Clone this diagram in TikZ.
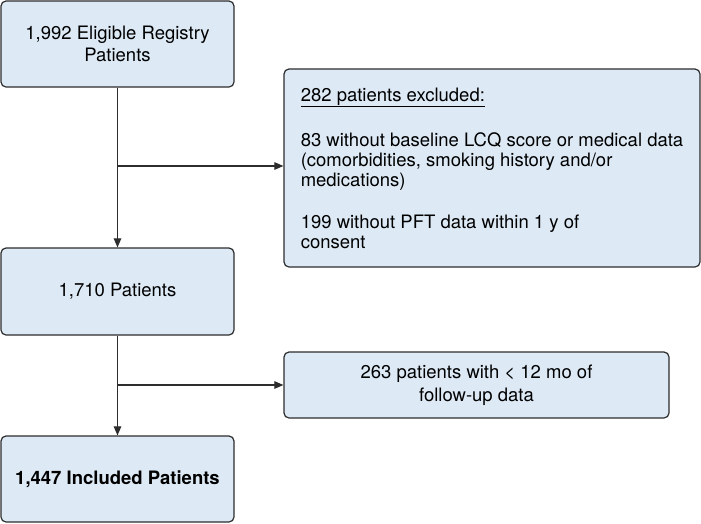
\documentclass[tikz,border=0pt]{standalone}
\usepackage{fontspec}
\setmainfont{TeX Gyre Heros}
\usetikzlibrary{arrows.meta}
\definecolor{boxfill}{RGB}{221,234,246}
\definecolor{boxline}{RGB}{45,45,45}
\tikzset{
    flowbox/.style={draw=boxline, fill=boxfill, line width=1.2pt, rounded corners=5pt,
        align=center, inner sep=0pt, font=\fontsize{18.5}{22.7}\selectfont},
    flowarrow/.style={-{Triangle[length=9pt,width=7.5pt]}, draw=boxline, line width=1.1pt}
}
\begin{document}
\begin{tikzpicture}[x=1pt, y=-1pt]
        \useasboundingbox (0,0) rectangle (701,523);
        \node[flowbox, minimum width=233pt, minimum height=86pt] (eligible) at (117.5,44) {1,992 Eligible Registry\\Patients};
        \node[flowbox, minimum width=233pt, minimum height=87pt] (patients) at (117.5,291.5) {1,710 Patients};
        \node[flowbox, minimum width=233pt, minimum height=86pt, font=\fontsize{18.5}{22.7}\selectfont\bfseries] (included) at (117.5,479) {1,447 Included Patients};
        \node[flowbox, align=left, minimum width=416pt, minimum height=198pt, font=\fontsize{18.5}{20}\selectfont] (excluded) at (492,168)
            {\underline{282 patients excluded:}\\[25pt]
             83 without baseline LCQ score or medical data\\
             (comorbidities, smoking history and/or\\
             medications)\\[22pt]
             199 without PFT data within 1 y of\\
             consent};
        \node[flowbox, minimum width=385pt, minimum height=66pt] (followup) at (476.5,385) {263 patients with < 12 mo of\\follow-up data};
        \coordinate (split1) at (117.5,166);
        \coordinate (split2) at (117.5,385);
        \draw[flowarrow] (eligible) -- (patients);
        \draw[flowarrow] (patients) -- (included);
        \draw[flowarrow] (split1) -- (excluded.west |- split1);
        \draw[flowarrow] (split2) -- (followup);
    \end{tikzpicture}
\end{document}
